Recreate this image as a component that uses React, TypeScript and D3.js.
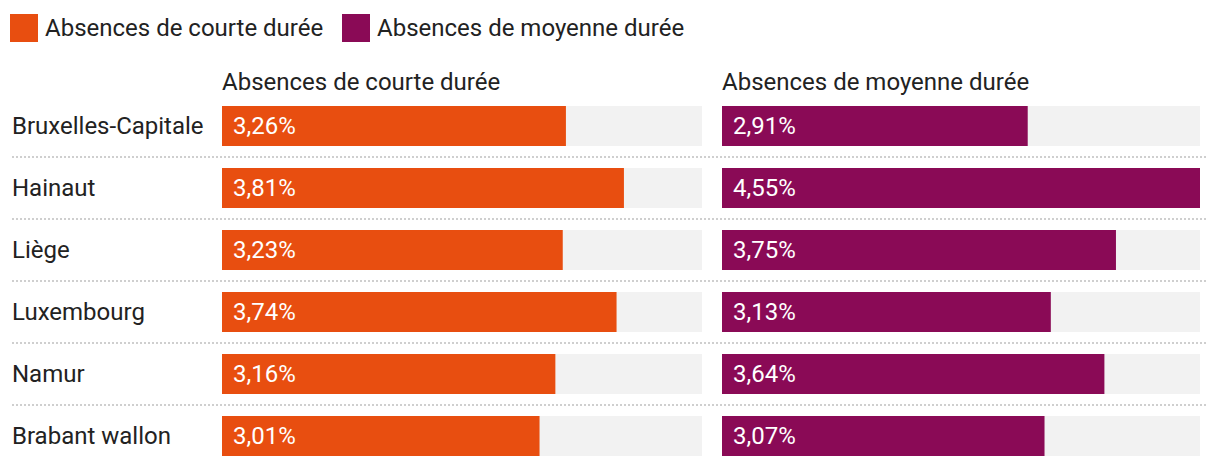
import React from "react";
import * as d3 from "d3";

const regions = ["Bruxelles-Capitale", "Hainaut", "Liège", "Luxembourg", "Namur", "Brabant wallon"];
const courte = [3.26, 3.81, 3.23, 3.74, 3.16, 3.01];
const moyenne = [2.91, 4.55, 3.75, 3.13, 3.64, 3.07];
const seriesNames = ["Absences de courte durée", "Absences de moyenne durée"];
const colors = ["#E84E10", "#8A0A56"];

const W = 1220;
const H = 468;
const FONT = "Roboto, sans-serif";
const TEXT = "#222";
const FS = 24;

export default function App() {
  const y = d3.scaleBand<string>().domain(regions).range([106, 456]).paddingInner(22 / 62).paddingOuter(0);
  const maxV = d3.max([...courte, ...moyenne]) as number;
  const cols = [
    { x0: 222, vals: courte, x: d3.scaleLinear().domain([0, maxV]).range([0, 480]) },
    { x0: 722, vals: moyenne, x: d3.scaleLinear().domain([0, maxV]).range([0, 478]) },
  ];
  const fmt = (v: number) => v.toFixed(2).replace(".", ",") + "%";
  const bw = y.bandwidth();
  const step = y.step();
  const legendX = [10, 342];

  return (
    <svg width={W} height={H} style={{ position: "absolute", left: 0, top: 0, fontFamily: FONT }}>
      {seriesNames.map((s, i) => (
        <g key={s}>
          <rect x={legendX[i]} y={14} width={28} height={28} fill={colors[i]} />
          <text x={legendX[i] + 35} y={36} fontSize={FS} fill={TEXT}>{s}</text>
        </g>
      ))}
      {cols.map((c, i) => (
        <text key={"h" + i} x={c.x0} y={90} fontSize={FS} fill={TEXT}>{seriesNames[i]}</text>
      ))}
      {regions.map((r, ri) => {
        const yy = y(r) as number;
        return (
          <g key={r}>
            <text x={12} y={yy + bw / 2} dy="0.35em" fontSize={FS} fill={TEXT}>{r}</text>
            {cols.map((c, ci) => (
              <g key={ci}>
                <rect x={c.x0} y={yy} width={c.x.range()[1]} height={bw} fill="#f2f2f2" />
                <rect x={c.x0} y={yy} width={c.x(c.vals[ri])} height={bw} fill={colors[ci]} />
                <text x={c.x0 + 11} y={yy + bw / 2} dy="0.35em" fontSize={FS} fill="#fff">{fmt(c.vals[ri])}</text>
              </g>
            ))}
            {ri < regions.length - 1 && (
              <line x1={12} x2={1208} y1={yy + bw + (step - bw) / 2} y2={yy + bw + (step - bw) / 2}
                stroke="#cfcfcf" strokeWidth={2} strokeDasharray="2,2" />
            )}
          </g>
        );
      })}
    </svg>
  );
}
